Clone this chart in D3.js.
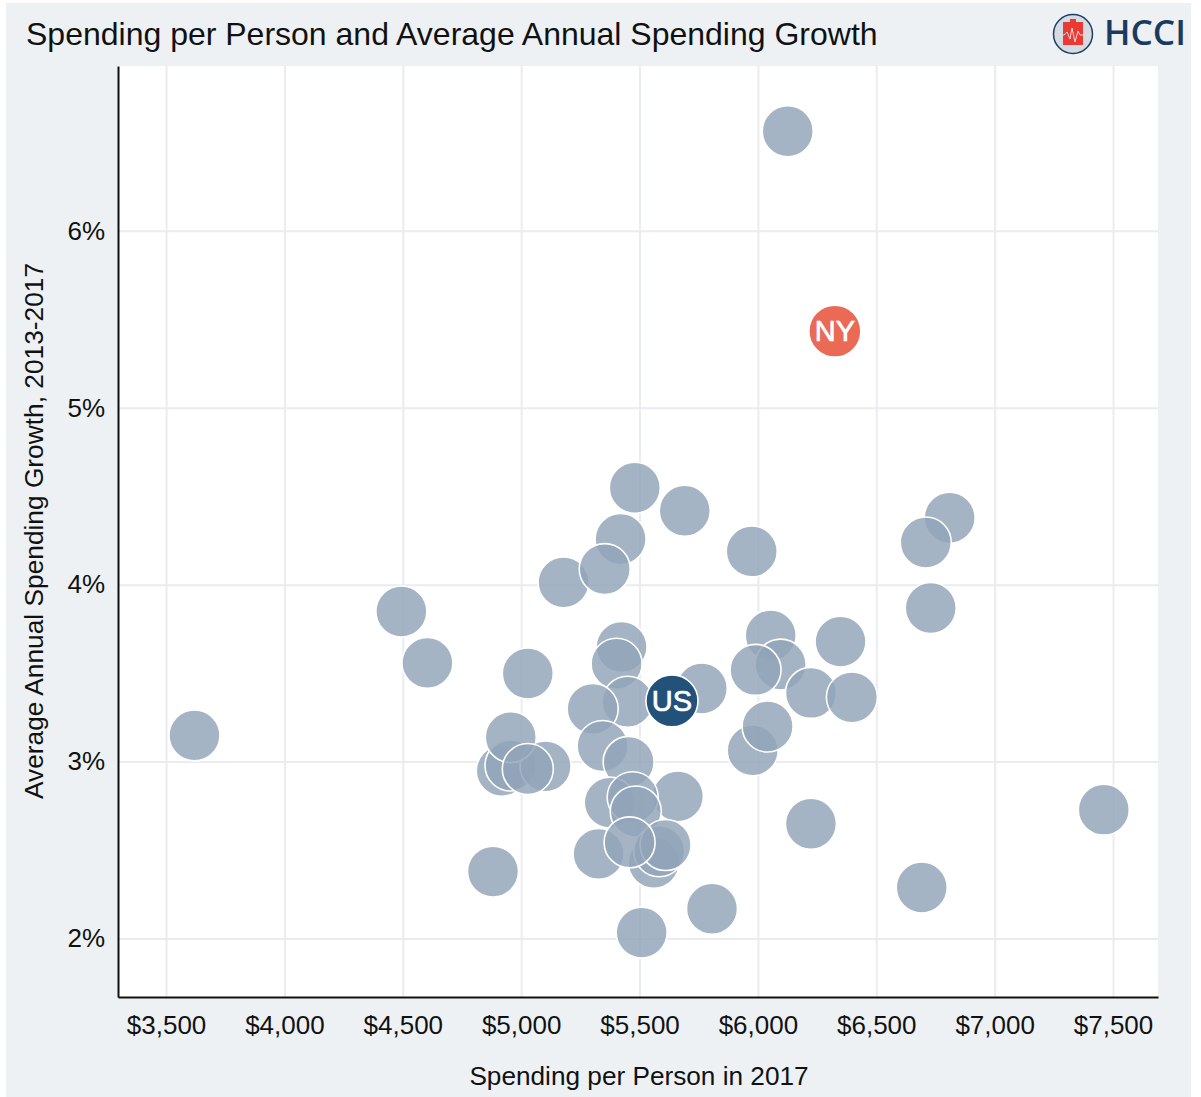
<!DOCTYPE html>
<html>
<head>
<meta charset="utf-8">
<script src="https://cdn.jsdelivr.net/npm/d3@7"></script>
<style>
html, body { margin: 0; padding: 0; background: #fff; }
svg { display: block; }
text { font-family: "Liberation Sans", Arial, sans-serif; fill: #111; }
</style>
</head>
<body>
<div id="chart"></div>
<script>
// spending per person ($) and average annual growth (%)
var spending = [3620,4494,4604,4881,4918,4955,5103,4956,5028,5028,5179,5420,5353,5480,5691,5974,6126,6810,6709,6730,6349,6054,6096,5990,6224,6397,5978,6041,5763,5424,5403,5450,5302,5344,5454,5662,5374,5471,5484,5327,5560,5583,5610,5458,6224,5806,5509,6692,7461];
var growth = [3.148,3.848,3.558,2.378,2.948,2.978,2.973,3.138,2.958,3.498,4.013,4.258,4.088,4.548,4.418,4.188,6.563,4.378,4.238,3.868,3.678,3.713,3.548,3.518,3.388,3.363,3.063,3.198,3.413,3.648,3.553,3.338,3.298,3.088,2.998,2.803,2.768,2.798,2.718,2.478,2.428,2.493,2.528,2.543,2.648,2.168,2.033,2.288,2.728];

var highlightLabels = ["US", "NY"];
var highlightSpending = [5637, 6325];
var highlightGrowth = [3.343, 5.433];
var highlightColors = ["#22527a", "#ea6a56"];

var xTicks = [3500,4000,4500,5000,5500,6000,6500,7000,7500];
var yTicks = [2,3,4,5,6];

var width = 1201, height = 1097;
var margin = {top: 66, right: 43, bottom: 100, left: 118};

var svg = d3.select("#chart").append("svg")
    .attr("width", width)
    .attr("height", height);

// panel background and white plot area
svg.append("rect").attr("x", 6).attr("y", 3).attr("width", 1185).attr("height", 1094).attr("fill", "#edf1f4");
svg.append("rect").attr("x", margin.left).attr("y", margin.top)
    .attr("width", width - margin.left - margin.right)
    .attr("height", height - margin.top - margin.bottom)
    .attr("fill", "#fff");

var x = d3.scaleLinear().domain([3297, 7690]).range([margin.left, width - margin.right]);
var y = d3.scaleLinear().domain([1.669, 6.932]).range([height - margin.bottom, margin.top]);

// gridlines
svg.append("g")
    .attr("transform", "translate(0," + (height - margin.bottom) + ")")
    .call(d3.axisBottom(x).tickValues(xTicks).tickSize(-(height - margin.top - margin.bottom)).tickFormat(""))
    .call(function(g) { g.select(".domain").remove(); })
    .selectAll("line").attr("stroke", "#e9ecf1").attr("stroke-width", 2);
svg.append("g")
    .attr("transform", "translate(" + margin.left + ",0)")
    .call(d3.axisLeft(y).tickValues(yTicks).tickSize(-(width - margin.left - margin.right)).tickFormat(""))
    .call(function(g) { g.select(".domain").remove(); })
    .selectAll("line").attr("stroke", "#e9ecf1").attr("stroke-width", 2);

// state bubbles
svg.append("g").selectAll("circle")
    .data(spending)
    .enter().append("circle")
    .attr("cx", function(d) { return x(d); })
    .attr("cy", function(d, i) { return y(growth[i]); })
    .attr("r", 25.5)
    .attr("fill", "#91a3b8")
    .attr("fill-opacity", 0.82)
    .attr("stroke", "#fff")
    .attr("stroke-width", 1.6);

// highlighted bubbles
var hl = svg.append("g").selectAll("g")
    .data(highlightLabels)
    .enter().append("g")
    .attr("transform", function(d, i) {
        return "translate(" + x(highlightSpending[i]) + "," + y(highlightGrowth[i]) + ")";
    });
hl.append("circle")
    .attr("r", 26)
    .attr("fill", function(d, i) { return highlightColors[i]; })
    .attr("stroke", "#fff")
    .attr("stroke-width", 1.6);
hl.append("text")
    .attr("text-anchor", "middle")
    .attr("dy", "0.35em")
    .style("font-size", "29px")
    .style("fill", "#fff")
    .style("stroke", "#fff")
    .style("stroke-width", 0.7)
    .text(function(d) { return d; });

// axes
var xAxis = svg.append("g")
    .attr("transform", "translate(0," + (height - margin.bottom) + ")")
    .call(d3.axisBottom(x).tickValues(xTicks).tickSize(0).tickPadding(19).tickFormat(d3.format("$,")));
var yAxis = svg.append("g")
    .attr("transform", "translate(" + margin.left + ",0)")
    .call(d3.axisLeft(y).tickValues(yTicks).tickSize(0).tickPadding(13).tickFormat(function(d) { return d + "%"; }));
[xAxis, yAxis].forEach(function(a) {
    a.selectAll("text").style("font-size", "26px").style("font-family", '"Liberation Sans", Arial, sans-serif').style("fill", "#111");
    a.select(".domain").attr("stroke", "#111").attr("stroke-width", 2);
});

// titles
svg.append("text").attr("x", 26).attr("y", 45).style("font-size", "32px")
    .text("Spending per Person and Average Annual Spending Growth");
svg.append("text").attr("x", 639).attr("y", 1085).attr("text-anchor", "middle").style("font-size", "26.2px")
    .text("Spending per Person in 2017");
svg.append("text").attr("transform", "translate(43,531) rotate(-90)").attr("text-anchor", "middle").style("font-size", "26.3px")
    .text("Average Annual Spending Growth, 2013-2017");

// logo
var logo = svg.append("g").attr("transform", "translate(1073,34)");
logo.append("circle").attr("r", 19.5).attr("fill", "#d5dbe3").attr("stroke", "#1f3d63").attr("stroke-width", 1.5);
logo.append("path").attr("d", "M-10,-12H-3V-15H3V-12H10V11H-10Z").attr("fill", "#ea3a34");
logo.append("path").attr("d", "M-18,1H-9L-6,-2L-3,5L-1,-6L2,8L5,-3L7,1H18").attr("fill", "none").attr("stroke", "#f5d5d5").attr("stroke-width", 1);
svg.append("text").attr("x", 1104).attr("y", 45).style("font-size", "34px").style("font-weight", "600")
    .attr("textLength", 82).attr("lengthAdjust", "spacingAndGlyphs")
    .style("font-family", '"Open Sans", sans-serif').style("fill", "#1b3a5f").text("HCCI");
</script>
</body>
</html>
